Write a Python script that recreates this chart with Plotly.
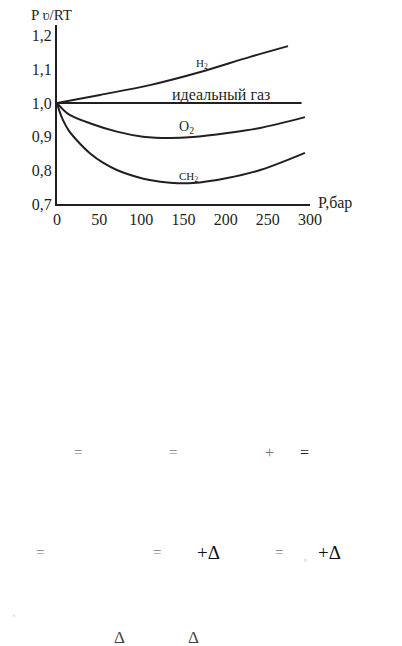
import plotly.graph_objects as go

# ---- data ----
pressure_h2 = [0, 51, 110, 170, 229, 274]
z_h2 = [1.000, 1.024, 1.053, 1.092, 1.137, 1.169]

pressure_ideal = [0, 290]
z_ideal = [1.0, 1.0]

pressure_o2 = [0, 7, 15, 39, 71, 102, 134, 161, 202, 241, 294]
z_o2 = [1.000, 0.981, 0.965, 0.940, 0.915, 0.900, 0.896, 0.899, 0.911, 0.926, 0.958]

pressure_ch2 = [0, 3, 7, 14, 24, 39, 55, 71, 95, 110, 134, 161, 202, 241, 294]
z_ch2 = [1.000, 0.975, 0.950, 0.918, 0.888, 0.851, 0.822, 0.801, 0.780, 0.771, 0.763, 0.762, 0.777, 0.801, 0.852]

x_ticks = [0, 50, 100, 150, 200, 250, 300]
y_ticks = [0.7, 0.8, 0.9, 1.0, 1.1, 1.2]

INK = "#231f20"
SERIF = "Liberation Serif"

# page has an 8px body margin; pixel targets below are window pixels
OFF = 8
L, R, T, B = 57, 310, 25, 204
W, H = 402 - OFF, 646 - OFF


def px(x):
    return (x - L) / (R - L)


def py(y):
    return (B - y) / (B - T)


fig = go.Figure()
for xs, ys in [(pressure_ideal, z_ideal), (pressure_h2, z_h2),
               (pressure_o2, z_o2), (pressure_ch2, z_ch2)]:
    fig.add_trace(go.Scatter(x=xs, y=ys, mode="lines",
                             line=dict(color=INK, width=2, shape="spline", smoothing=1.0),
                             hoverinfo="skip", showlegend=False, cliponaxis=False))

ann = []
# curve labels (data coords)
ann.append(dict(x=172, y=1.116, xref="x", yref="y", text="H<sub>2</sub>",
                font=dict(family=SERIF, size=11, color=INK), showarrow=False))
ann.append(dict(x=195, y=1.024, xref="x", yref="y", text="идеальный газ",
                font=dict(family=SERIF, size=16, color=INK), showarrow=False))
ann.append(dict(x=153, y=0.926, xref="x", yref="y", text="O<sub>2</sub>",
                font=dict(family=SERIF, size=14, color=INK), showarrow=False))
ann.append(dict(x=156.5, y=0.780, xref="x", yref="y", text="CH<sub>2</sub>",
                font=dict(family=SERIF, size=11, color=INK), showarrow=False))
# axis titles
ann.append(dict(x=px(29), y=py(15), xref="paper", yref="paper", text="P ʋ/RT",
                xanchor="left", yanchor="middle",
                font=dict(family=SERIF, size=15, color=INK), showarrow=False))
ann.append(dict(x=px(316), y=py(203), xref="paper", yref="paper", text="P,бар",
                xanchor="left", yanchor="middle",
                font=dict(family=SERIF, size=16, color=INK), showarrow=False))

# stray formula fragments below the chart
frag = [
    (78, 452, "=", 15, "#777"), (173, 452, "=", 15, "#777"), (269, 452, "+", 16, "#777"),
    (304, 452, "=", 16, "#222"),
    (40, 552, "=", 15, "#777"), (157, 552, "=", 15, "#777"), (208, 552, "+Δ", 19, "#111"),
    (279, 552, "=", 15, "#777"), (305, 562, "°", 7, "#aaa"), (329, 552, "+Δ", 19, "#111"),
    (14, 616, "×", 7, "#bbb"), (119, 637, "Δ", 17, "#444"), (193, 637, "Δ", 17, "#444"),
]
for x, y, t, s, c in frag:
    ann.append(dict(x=px(x), y=py(y), xref="paper", yref="paper", text=t,
                    xanchor="center", yanchor="middle",
                    font=dict(family=SERIF, size=s, color=c), showarrow=False))

fig.update_layout(
    width=W, height=H,
    margin=dict(l=L - OFF, r=402 - R, t=T - OFF, b=646 - B, pad=0),
    paper_bgcolor="white", plot_bgcolor="white",
    separators=", ",
    annotations=ann,
    xaxis=dict(range=[0, 300], tickvals=x_ticks, showgrid=False, zeroline=False,
               showline=True, linecolor=INK, linewidth=2, ticks="",
               tickfont=dict(family=SERIF, size=16, color=INK)),
    yaxis=dict(range=[0.7, 0.7 + (B - T) / 336.7], tickvals=y_ticks, tickformat=".1f",
               showgrid=False, zeroline=False,
               showline=True, linecolor=INK, linewidth=2, ticks="",
               tickfont=dict(family=SERIF, size=16, color=INK)),
)

fig.write_html("out.html")
